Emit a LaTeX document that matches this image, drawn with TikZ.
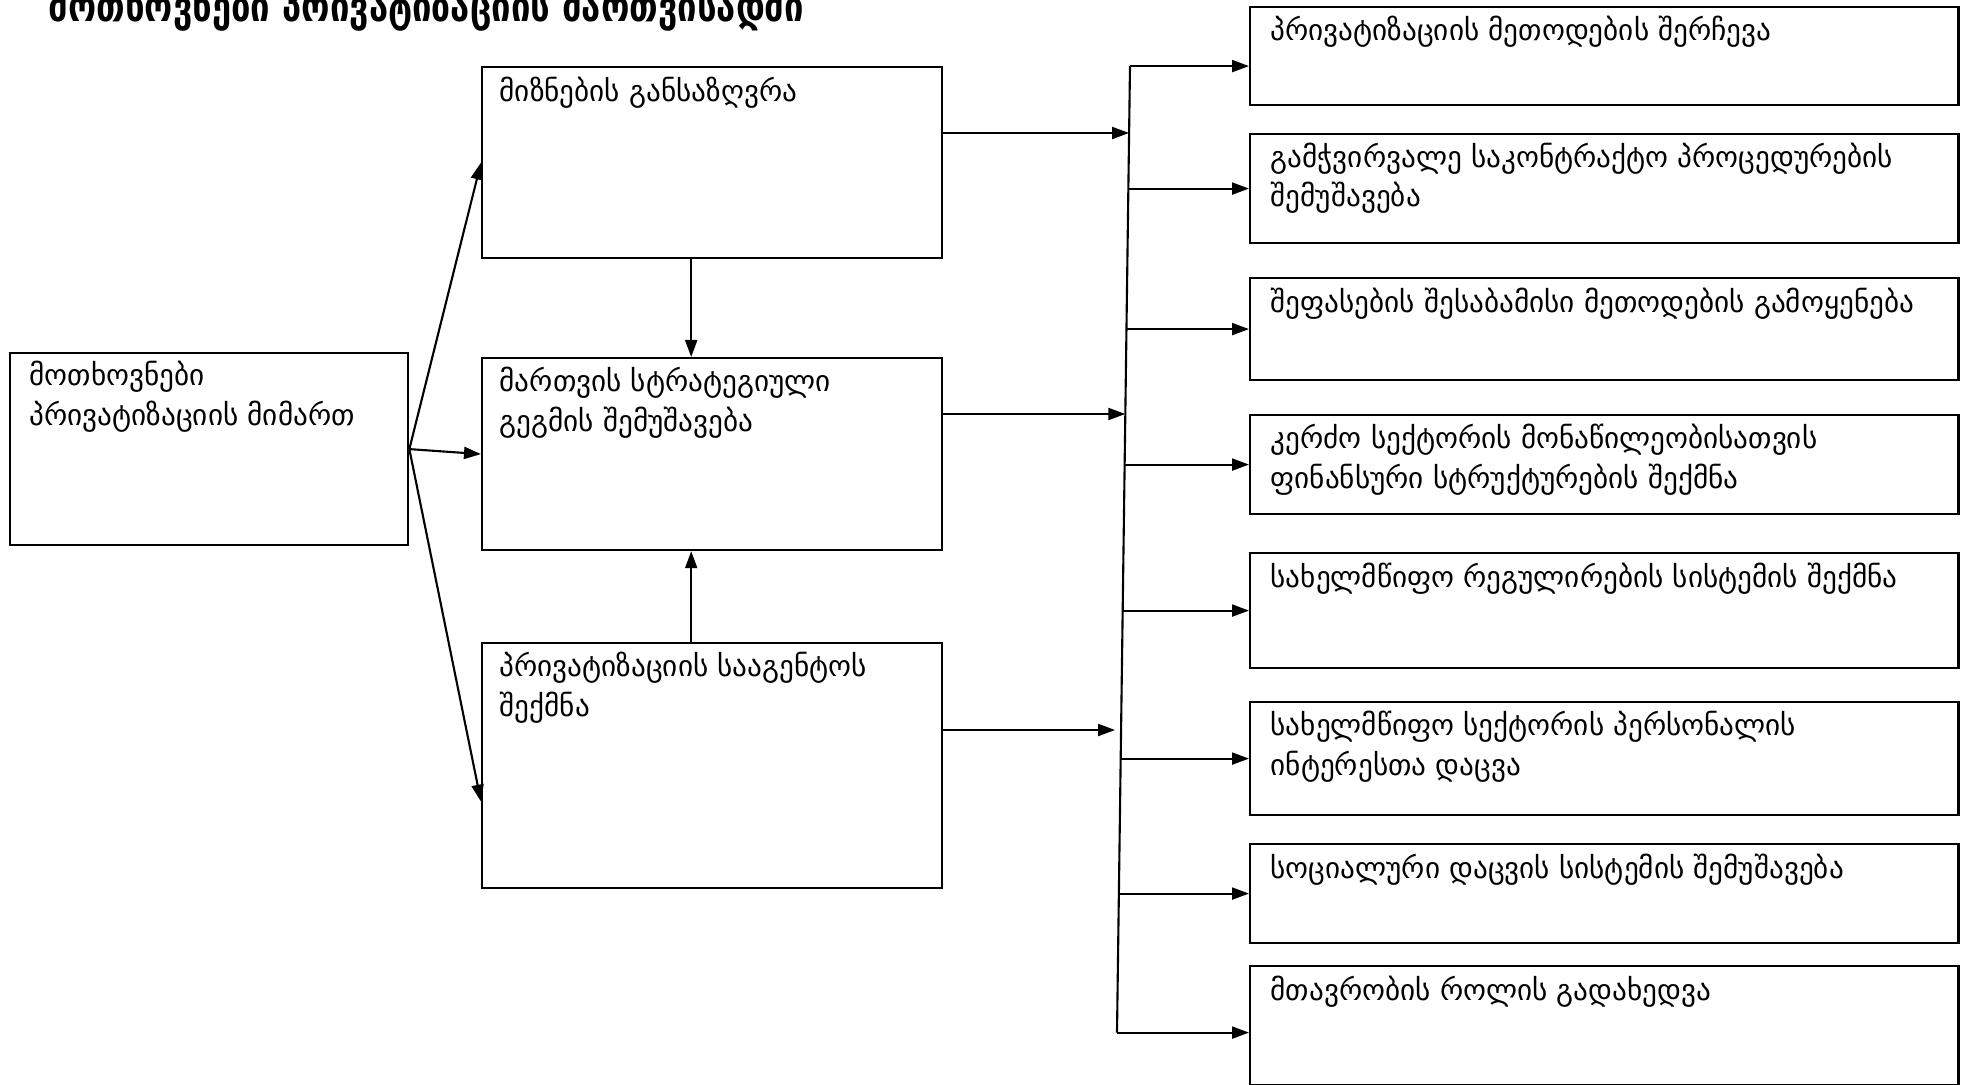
\documentclass[tikz,border=0pt]{standalone}
\usepackage{fontspec}
\setmainfont{DejaVu Sans}
\newfontfamily\titlefont[FakeStretch=0.82]{DejaVu Sans Bold}
\usetikzlibrary{arrows.meta,calc}

\begin{document}
\begin{tikzpicture}[x=0.01cm,y=-0.01cm,
    frame/.style={draw,line width=0.6pt,inner sep=0pt,anchor=north west},
    txt/.style={inner sep=0pt,anchor=base west,align=left,font=\fontsize{8.3}{11.2}\selectfont},
    arr/.style={line width=0.6pt,-{Triangle[length=1.7mm,width=1.2mm]}}]
    \useasboundingbox (0,0) rectangle (1966,1085);
    \node[anchor=base west,inner sep=0pt,font=\titlefont\fontsize{12}{14}\selectfont] (title) at (48,22) {მოთხოვნები პრივატიზაციის მართვისადმი};
    \node[frame,minimum width=3.98cm,minimum height=1.92cm] (req) at (9,352) {};
    \node[frame,minimum width=4.6cm,minimum height=1.91cm] (goal) at (481,66) {};
    \node[frame,minimum width=4.6cm,minimum height=1.92cm] (plan) at (481,357) {};
    \node[frame,minimum width=4.6cm,minimum height=2.45cm] (agency) at (481,642) {};
    % two-line texts: base is the last line
    \node[txt] (reqt) at ([shift={(20,73)}]req.north west) {მოთხოვნები\\პრივატიზაციის მიმართ};
    \node[txt] (goalt) at ([shift={(18,36)}]goal.north west) {მიზნების განსაზღვრა};
    \node[txt] (plant) at ([shift={(18,74)}]plan.north west) {მართვის სტრატეგიული\\გეგმის შემუშავება};
    \node[txt] (agencyt) at ([shift={(18,74)}]agency.north west) {პრივატიზაციის სააგენტოს\\შექმნა};
    \foreach \i/\y/\h in {1/6/0.98,2/133/1.09,3/277/1.02,4/414/0.99,5/552/1.15,6/701/1.13,7/843/0.99,8/965/1.19}
        \node[frame,minimum width=7.08cm,minimum height=\h cm] (r\i) at (1249,\y) {};
    \node[txt] (r1t) at ([shift={(21,35)}]r1.north west) {პრივატიზაციის მეთოდების შერჩევა};
    \node[txt] (r2t) at ([shift={(21,74)}]r2.north west) {გამჭვირვალე საკონტრაქტო პროცედურების\\შემუშავება};
    \node[txt] (r3t) at ([shift={(21,35)}]r3.north west) {შეფასების შესაბამისი მეთოდების გამოყენება};
    \node[txt] (r4t) at ([shift={(21,74)}]r4.north west) {კერძო სექტორის მონაწილეობისათვის\\ფინანსური სტრუქტურების შექმნა};
    \node[txt] (r5t) at ([shift={(21,35)}]r5.north west) {სახელმწიფო რეგულირების სისტემის შექმნა};
    \node[txt] (r6t) at ([shift={(21,74)}]r6.north west) {სახელმწიფო სექტორის პერსონალის\\ინტერესთა დაცვა};
    \node[txt] (r7t) at ([shift={(21,35)}]r7.north west) {სოციალური დაცვის სისტემის შემუშავება};
    \node[txt] (r8t) at ([shift={(21,35)}]r8.north west) {მთავრობის როლის გადახედვა};
    % left part
    \draw[arr] (req.east) -- (goal.west);
    \draw[arr] (req.east) -- (plan.west);
    \draw[arr] (req.east) -- ($(agency.west)+(0,36)$);
    \draw[arr] ($(goal.south)+(-21,0)$) -- ($(plan.north)+(-21,0)$);
    \draw[arr] ($(agency.north)+(-21,0)$) -- ($(plan.south)+(-21,0)$);
    % bus
    \path (r1.west) ++(-119,10) coordinate (bt);
    \path (r8.west) ++(-132,7) coordinate (bb);
    \draw[line width=0.6pt] (bt) -- (bb);
    \draw[arr] (bt) -- (bt -| r1.west);
    \draw[arr] (bb) -- (bb -| r8.west);
    \foreach \i in {2,...,7} {
        \coordinate (j\i) at ($(bt)!(r\i.west)!(bb)$);
        \draw[arr] (j\i |- r\i.west) -- (r\i.west);
    }
    \coordinate (ga) at ($(goal.north east)+(0,67)$);
    \coordinate (pa) at ($(plan.north east)+(0,57)$);
    \coordinate (aa) at ($(agency.north east)+(0,88)$);
    \coordinate (jga) at ($(bt)!(ga)!(bb)$);
    \coordinate (jpa) at ($(bt)!(pa)!(bb)$);
    \coordinate (jaa) at ($(bt)!(aa)!(bb)+(-6,0)$);
    \draw[arr] (ga) -- (jga |- ga);
    \draw[arr] (pa) -- (jpa |- pa);
    \draw[arr] (aa) -- (jaa |- aa);
\end{tikzpicture}
\end{document}
